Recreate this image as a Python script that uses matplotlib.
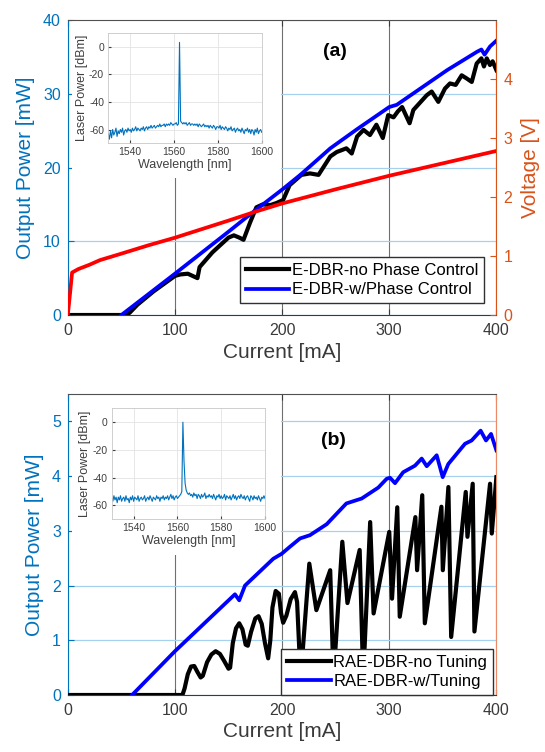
import numpy as np
import matplotlib.pyplot as plt
from matplotlib.patches import Rectangle

plt.rcParams['font.family'] = ['Liberation Sans', 'DejaVu Sans']
plt.rcParams['axes.unicode_minus'] = False

# ---------- panel (a): E-DBR ----------
cur_a_nophase = [0, 55, 58, 65, 80, 100, 105, 112, 118, 121, 123, 135, 150, 155, 160, 164,
                 170, 176, 182, 189, 195, 201, 207, 218, 226, 234, 245, 251, 260, 265, 270,
                 276, 282, 288, 294, 299, 304, 308, 312, 319, 322.5, 330, 335, 339.6, 345.8,
                 352, 356.7, 362, 367.6, 372, 377, 381.6, 386, 388.4, 391, 394, 396.5, 400]
pow_a_nophase = [0, 0, 0.35, 1.4, 3.2, 5.3, 5.5, 5.6, 5.2, 5.0, 6.5, 8.5, 10.5, 10.8, 10.5, 10.2,
                 12.5, 14.6, 15.0, 14.9, 15.2, 15.6, 17.6, 19.0, 19.2, 19.0, 21.5, 22.1, 22.6, 21.9, 24.2,
                 25.1, 24.4, 25.8, 24.0, 27.1, 26.8, 27.6, 28.2, 26.0, 27.8, 29.0, 29.8, 30.3, 28.9,
                 30.7, 31.4, 31.2, 32.5, 32.1, 31.6, 34.1, 34.8, 33.7, 34.8, 33.9, 34.4, 33.2]

cur_a_phase = [50, 100, 150, 175, 200, 217, 245, 270, 300, 307, 325, 354, 382, 386, 389, 394, 400]
pow_a_phase = [0, 5.6, 11.3, 14.2, 17.0, 19.0, 22.6, 25.2, 28.2, 28.5, 30.3, 33.2, 35.7, 36.0, 35.3, 36.4, 37.2]

cur_a_volt = [0, 2, 4, 10, 20, 30, 50, 75, 100, 150, 175, 200, 250, 300, 350, 400]
volt_a = [0, 0.35, 0.72, 0.78, 0.85, 0.93, 1.04, 1.18, 1.31, 1.60, 1.75, 1.89, 2.13, 2.36, 2.57, 2.78]

# ---------- panel (b): RAE-DBR ----------
cur_b_notune = [0, 107, 109, 112, 115, 118, 121, 124, 126, 130, 134, 138, 142, 146, 150,
                151.5, 154, 157, 160, 163, 166, 168, 171, 175, 178, 181, 184, 187, 189, 191,
                194, 197, 199, 201, 204, 208, 212, 214, 217.3, 225.4, 232, 244.9, 248, 256.2,
                261, 272.4, 275.7, 282.2, 285.4, 300, 302.6, 307.5, 309.8, 324.4, 326, 330.8,
                333.2, 348.7, 350, 355.2, 357.8, 371.4, 373, 377.9, 379.5, 394.1, 395.7, 400]
pow_b_notune = [0, 0, 0.12, 0.38, 0.52, 0.53, 0.42, 0.32, 0.35, 0.6, 0.74, 0.8, 0.75, 0.62, 0.48,
                0.5, 0.95, 1.22, 1.31, 1.2, 0.92, 0.9, 1.15, 1.4, 1.44, 1.3, 0.95, 0.67, 1.0, 1.6,
                1.9, 1.85, 1.5, 1.32, 1.45, 1.75, 1.88, 1.7, 0.3, 2.40, 1.55, 2.28, 0.3, 2.80,
                1.68, 2.65, 0.3, 3.16, 1.49, 2.98, 1.76, 3.43, 1.43, 3.25, 2.28, 3.65,
                1.31, 3.44, 2.28, 3.80, 1.06, 3.71, 2.89, 3.86, 1.16, 3.86, 2.95, 3.98]

cur_b_tune = [60, 100, 156, 160, 165.4, 191.8, 199.6, 207.4, 216.7, 226, 241.6, 260, 274.3,
              289.8, 297.6, 300.7, 305.4, 313, 324, 330.3, 335, 344.3, 349.9, 355.1, 370.7,
              376.9, 385.3, 390.3, 395, 400]
pow_b_tune = [0, 0.8, 1.84, 1.73, 2.0, 2.49, 2.58, 2.71, 2.86, 2.92, 3.12, 3.50, 3.59,
              3.79, 3.95, 3.97, 3.87, 4.07, 4.19, 4.32, 4.18, 4.38, 3.98, 4.22, 4.59,
              4.65, 4.83, 4.65, 4.77, 4.47]

# ---------- inset spectra, 0.5 nm steps from 1530 to 1600 nm ----------
wl = np.linspace(1530, 1600, 141)
spec_a = [-63, -67, -61, -66, -60, -64, -62, -59, -65, -61,
          -63, -60, -62, -59, -64, -61, -60, -62, -59, -61,
          -60, -62, -59, -61, -60, -58, -61, -59, -60, -61,
          -59, -60, -58, -61, -59, -58, -60, -58, -59, -57,
          -59, -58, -57, -59, -58, -57, -58, -56, -58, -57,
          -57, -56, -58, -56, -57, -56, -57, -55, -56, -57,
          -56, -56, -55, -57, -56, 3, -54, -55, -56, -55,
          -56, -55, -57, -56, -55, -57, -56, -56, -57, -56,
          -57, -56, -58, -56, -57, -58, -57, -56, -58, -57,
          -58, -57, -59, -57, -58, -59, -57, -58, -60, -58,
          -58, -59, -57, -60, -58, -59, -60, -58, -59, -61,
          -59, -60, -58, -61, -60, -59, -62, -60, -59, -61,
          -60, -62, -59, -61, -63, -60, -61, -59, -62, -60,
          -63, -60, -61, -64, -60, -62, -59, -63, -61, -60,
          -62]
spec_b = [-55, -57, -53, -56, -54, -58, -54, -56, -53, -57,
          -55, -54, -57, -53, -56, -55, -58, -54, -56, -53,
          -57, -54, -55, -56, -53, -57, -55, -54, -56, -55,
          -53, -57, -55, -54, -56, -53, -55, -57, -54, -55,
          -56, -53, -55, -54, -57, -54, -55, -53, -56, -54,
          -55, -53, -56, -54, -52, -55, -53, -56, -54, -53,
          -55, -54, -53, -52, -50, 0, -28, -44, -49, -51,
          -52, -51, -53, -52, -54, -51, -53, -52, -55, -52,
          -53, -55, -52, -54, -53, -51, -55, -53, -54, -52,
          -54, -53, -55, -52, -54, -56, -53, -54, -52, -55,
          -53, -55, -54, -52, -56, -53, -54, -55, -53, -56,
          -54, -52, -55, -53, -56, -54, -53, -55, -52, -54,
          -55, -53, -56, -54, -53, -55, -57, -53, -54, -56,
          -53, -55, -54, -56, -53, -55, -57, -54, -55, -53,
          -55]

cur_ticks = [0, 100, 200, 300, 400]

mblue = '#0072BD'
morange = '#D95319'
dark = '#3a3a3a'

fig = plt.figure(figsize=(5.45, 7.52), dpi=100)


def style_main(ax, ymax, yticks, right_color):
    ax.set_xlim(0, 400)
    ax.set_ylim(0, ymax)
    ax.set_xticks(cur_ticks)
    ax.set_yticks(yticks)
    ax.set_axisbelow(True)
    ax.xaxis.grid(True, color='#707070', lw=0.8)
    ax.yaxis.grid(True, color='#a6d0ec', lw=0.9)
    ax.tick_params(axis='x', direction='in', top=True, length=4, labelsize=11.5,
                   colors=dark, pad=6)
    ax.tick_params(axis='y', direction='in', length=4, labelsize=11.5,
                   colors=mblue, pad=5)
    ax.spines['left'].set_color(mblue)
    ax.spines['right'].set_color(right_color)
    ax.spines['top'].set_color('#505050')
    ax.spines['bottom'].set_color(dark)
    for s in ax.spines.values():
        s.set_linewidth(0.8)
    ax.set_xlabel('Current [mA]', fontsize=15, color=dark, labelpad=3)
    ax.set_ylabel('Output Power [mW]', fontsize=15, color=mblue, labelpad=6)
    # white area behind the inset spectrum
    ax.add_patch(Rectangle((0.01, 0.465), 0.487, 0.535, transform=ax.transAxes,
                           facecolor='white', edgecolor='none', zorder=1))


def style_inset(ax, spec):
    ax.plot(wl, spec, color=mblue, lw=0.8)
    ax.set_xlim(1530, 1600)
    ax.set_ylim(-70, 10)
    ax.set_xticks([1540, 1560, 1580, 1600])
    ax.set_yticks([-60, -40, -20, 0])
    ax.grid(True, color='#e3e3e3', lw=0.6)
    ax.tick_params(direction='in', length=2, labelsize=7.5, colors='#404040', pad=3)
    for s in ax.spines.values():
        s.set_color('#c8c8c8')
        s.set_linewidth(0.6)
    ax.set_xlabel('Wavelength [nm]', fontsize=9, color='#404040', labelpad=1)
    ax.set_ylabel('Laser Power [dBm]', fontsize=9, color='#404040', labelpad=1)


leg_kw = dict(fontsize=12, loc='lower right', frameon=True, fancybox=False,
              framealpha=1, edgecolor='#303030', borderaxespad=0, handlelength=2.6,
              handletextpad=0.15, labelspacing=0.25, borderpad=0.35)

# ===== (a) =====
ax1 = fig.add_axes([0.1244, 0.5811, 0.7864, 0.3923])
style_main(ax1, 40, [0, 10, 20, 30, 40], morange)
l1, = ax1.plot(cur_a_nophase, pow_a_nophase, color='black', lw=3.0,
               solid_joinstyle='round', zorder=3, label='E-DBR-no Phase Control')
l2, = ax1.plot(cur_a_phase, pow_a_phase, color='#0000ff', lw=2.7,
               solid_joinstyle='round', zorder=3, label='E-DBR-w/Phase Control')
ax1.text(249, 35.7, '(a)', fontsize=14, fontweight='bold', ha='center', va='center')

ax1r = ax1.twinx()
ax1r.plot(cur_a_volt, volt_a, color='#ff0000', lw=2.7, solid_joinstyle='round')
ax1r.set_ylim(0, 4.999)
ax1r.set_yticks([0, 1, 2, 3, 4])
ax1r.tick_params(axis='y', direction='in', length=4, labelsize=11.5, colors=morange, pad=5)
ax1r.set_ylabel('Voltage [V]', fontsize=15, color=morange, labelpad=6)
for s in ax1r.spines.values():
    s.set_visible(False)
ax1.legend(handles=[l1, l2], bbox_to_anchor=(0.9706, 0.0397), **leg_kw).set_zorder(5)

ins_a = fig.add_axes([0.1987, 0.8094, 0.2815, 0.1471])
style_inset(ins_a, spec_a)

# ===== (b) =====
ax2 = fig.add_axes([0.1244, 0.0758, 0.7864, 0.4003])
style_main(ax2, 5.5, [0, 1, 2, 3, 4, 5], '#ea8a66')
l3, = ax2.plot(cur_b_notune, pow_b_notune, color='black', lw=3.0,
               solid_joinstyle='round', zorder=3, label='RAE-DBR-no Tuning')
l4, = ax2.plot(cur_b_tune, pow_b_tune, color='#0000ff', lw=2.7,
               solid_joinstyle='round', zorder=3, label='RAE-DBR-w/Tuning')
ax2.text(248, 4.65, '(b)', fontsize=14, fontweight='bold', ha='center', va='center')
ax2.legend(handles=[l3, l4], bbox_to_anchor=(0.9918, 0.0), **leg_kw).set_zorder(5)

ins_b = fig.add_axes([0.205, 0.3094, 0.2813, 0.1476])
style_inset(ins_b, spec_b)

fig.savefig('out.png', dpi=100)
